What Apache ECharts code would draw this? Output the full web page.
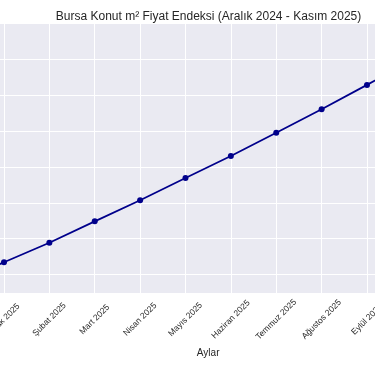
<!DOCTYPE html>
<html>
<head>
<meta charset="utf-8">
<script src="https://cdn.jsdelivr.net/npm/echarts@6/dist/echarts.min.js"></script>
<style>
html,body{margin:0;padding:0;background:#fff;}
#chart{width:375px;height:366px;}
</style>
</head>
<body>
<div id="chart"></div>
<script>
const months = ['Aralık 2024','Ocak 2025','Şubat 2025','Mart 2025','Nisan 2025','Mayıs 2025','Haziran 2025','Temmuz 2025','Ağustos 2025','Eylül 2025','Ekim 2025','Kasım 2025'];
const priceIndex = [29820, 30345, 30890, 31485, 32070, 32690, 33300, 33950, 34600, 35280, 35980, 36700];
const titleText = 'Bursa Konut m² Fiyat Endeksi (Aralık 2024 - Kasım 2025)';
const xAxisName = 'Aylar';
const yAxisName = 'Fiyat Endeksi (TL/m²)';

const chart = echarts.init(document.getElementById('chart'), null, {renderer: 'canvas'});
const font = '"Liberation Sans", Arial, sans-serif';
chart.setOption({
  animation: false,
  backgroundColor: '#ffffff',
  title: {
    text: titleText,
    left: 203.5,
    textAlign: 'center',
    top: 6,
    textStyle: {fontFamily: font, fontSize: 12, fontWeight: 'normal', color: '#262626'}
  },
  grid: {
    left: -41.4,
    right: -82.75,
    top: 22,
    bottom: 72.5,
    containLabel: false,
    outerBoundsMode: 'none',
    show: true,
    backgroundColor: '#EAEAF2',
    borderWidth: 0
  },
  xAxis: {
    type: 'category',
    data: months,
    boundaryGap: false,
    name: xAxisName,
    nameLocation: 'middle',
    nameGap: 53,
    nameTextStyle: {fontFamily: font, fontSize: 10, color: '#262626'},
    axisLine: {show: false},
    axisTick: {show: false},
    axisLabel: {
      interval: 0,
      rotate: 45,
      align: 'center',
      verticalAlign: 'middle',
      margin: 26,
      hideOverlap: false,
      fontFamily: font,
      fontSize: 8.5,
      color: '#262626'
    },
    splitLine: {show: true, lineStyle: {color: '#ffffff', width: 1}}
  },
  yAxis: {
    type: 'value',
    min: 29477,
    max: 37029,
    splitNumber: 8,
    name: yAxisName,
    nameLocation: 'middle',
    nameGap: 50,
    axisLine: {show: false},
    axisTick: {show: false},
    axisLabel: {show: false},
    splitLine: {show: true, lineStyle: {color: '#ffffff', width: 1}}
  },
  series: [{
    type: 'line',
    data: priceIndex,
    symbol: 'circle',
    symbolSize: 6,
    lineStyle: {color: '#00008B', width: 1.8},
    itemStyle: {color: '#00008B'}
  }]
});
</script>
</body>
</html>
